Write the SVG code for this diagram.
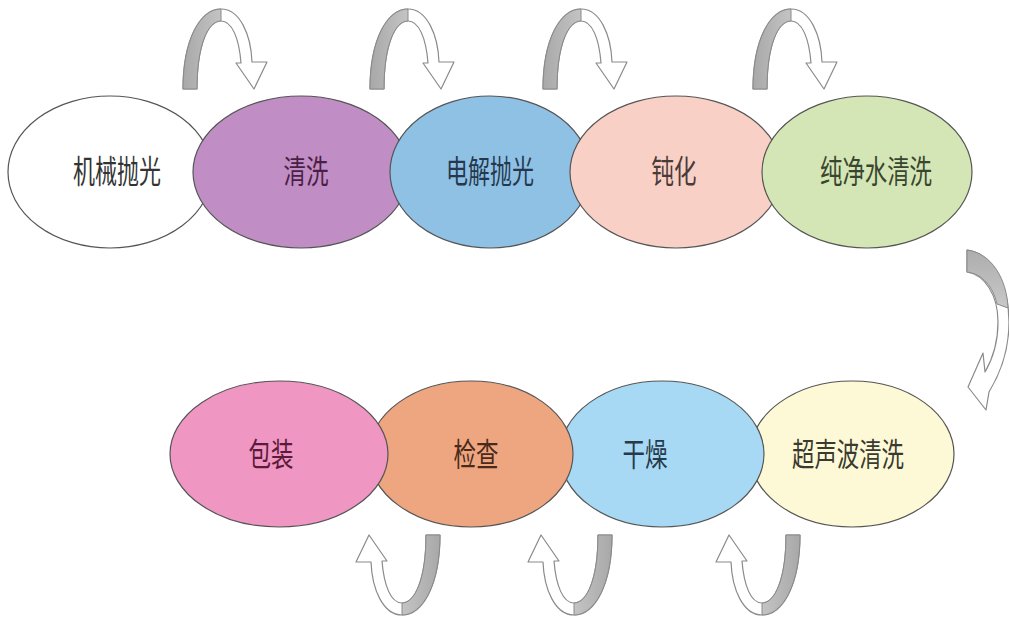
<svg xmlns="http://www.w3.org/2000/svg" xmlns:xlink="http://www.w3.org/1999/xlink" width="1009" height="618" viewBox="0 0 1009 618">
<style>
.node ellipse{stroke:#555;stroke-width:1.2}
.node text{font-family:"Noto Sans CJK SC","Liberation Sans",sans-serif;font-size:32px;text-anchor:middle}
.outline{fill:#fff;stroke:#8a8a8a;stroke-width:1.2;stroke-linejoin:round}
.leg{fill:url(#g);stroke:#8a8a8a;stroke-width:1}
</style>
<defs>
<linearGradient id="g" x1="0" y1="0" x2="1" y2="0">
<stop offset="0" stop-color="#a8a8a8"/>
<stop offset="1" stop-color="#c4c4c4"/>
</linearGradient>
<linearGradient id="g2" x1="0" y1="0" x2="0" y2="1">
<stop offset="0" stop-color="#adadad"/>
<stop offset="1" stop-color="#c8c8c8"/>
</linearGradient>
<g id="arch">
<path class="outline" d="M183,89 C183,40 200,9 221,9 C240,9 251,35 252,62 L267,62 L254,89 L236,63 L241,63 C239,38 232,21 221,21 C208,21 197,45 197,89 Z"/>
<path class="leg" d="M183,89 C183,40 200,9 221,9 L221,21 C208,21 197,45 197,89 Z"/>
</g>
</defs>
<rect width="1009" height="618" fill="#fff"/>
<g id="connectors">
<use xlink:href="#arch"/>
<use xlink:href="#arch" transform="translate(187,0)"/>
<use xlink:href="#arch" transform="translate(360,0)"/>
<use xlink:href="#arch" transform="translate(570,0)"/>
<path class="outline" d="M967,250 C992,253 1009,285 1009,322 C1009,350 1000,374 989,392 L986,410 L968,387 L983,353 L985,372 C992,360 998,345 998,322 C998,295 985,275 967,272 Z"/>
<path class="leg" style="fill:url(#g2)" d="M967,250 C992,253 1007,280 1008,308 L997,304 C993,287 983,274 967,272 Z"/>
<use xlink:href="#arch" transform="rotate(180 311.5 312)"/>
<use xlink:href="#arch" transform="translate(172,0) rotate(180 311.5 312)"/>
<use xlink:href="#arch" transform="translate(360,0) rotate(180 311.5 312)"/>
</g>
<g id="n1" class="node"><ellipse cx="110" cy="172" rx="102" ry="76" fill="#ffffff"/><text x="117" y="183" fill="#333" textLength="88" lengthAdjust="spacingAndGlyphs">机械抛光</text></g>
<g id="n2" class="node"><ellipse cx="301" cy="172" rx="108" ry="76" fill="#c08ec4"/><text x="306" y="183" fill="#4a1e46" textLength="45" lengthAdjust="spacingAndGlyphs">清洗</text></g>
<g id="n3" class="node"><ellipse cx="490" cy="172" rx="100" ry="76" fill="#8fc1e5"/><text x="490" y="183" fill="#26384e" textLength="88" lengthAdjust="spacingAndGlyphs">电解抛光</text></g>
<g id="n4" class="node"><ellipse cx="676" cy="172" rx="106" ry="76" fill="#f9d0c6"/><text x="674" y="183" fill="#4a3a38" textLength="45" lengthAdjust="spacingAndGlyphs">钝化</text></g>
<g id="n5" class="node"><ellipse cx="867" cy="172" rx="105" ry="76" fill="#d4e6b5"/><text x="876" y="183" fill="#3a4530" textLength="112" lengthAdjust="spacingAndGlyphs">纯净水清洗</text></g>
<g id="n9" class="node"><ellipse cx="852" cy="454" rx="102" ry="73" fill="#fdf9d6"/><text x="848" y="466" fill="#3a3a30" textLength="112" lengthAdjust="spacingAndGlyphs">超声波清洗</text></g>
<g id="n8" class="node"><ellipse cx="662" cy="454" rx="102" ry="73" fill="#a8d9f4"/><text x="645" y="466" fill="#263a4a" textLength="45" lengthAdjust="spacingAndGlyphs">干燥</text></g>
<g id="n7" class="node"><ellipse cx="471" cy="454" rx="102" ry="73" fill="#eea680"/><text x="476" y="466" fill="#4a2a1a" textLength="45" lengthAdjust="spacingAndGlyphs">检查</text></g>
<g id="n6" class="node"><ellipse cx="279" cy="454" rx="109" ry="73" fill="#ef96c2"/><text x="271" y="466" fill="#5a1a3a" textLength="45" lengthAdjust="spacingAndGlyphs">包装</text></g>
</svg>
